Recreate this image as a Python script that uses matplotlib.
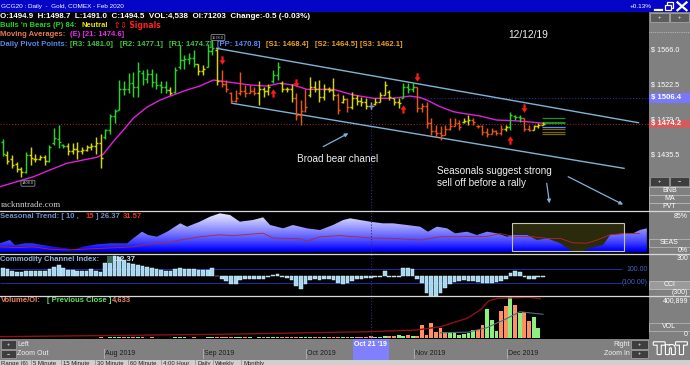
import numpy as np
import matplotlib
matplotlib.use("Agg")
import matplotlib.pyplot as plt
from matplotlib.patches import Rectangle, Polygon
from matplotlib.path import Path
from matplotlib.lines import Line2D
from matplotlib.collections import LineCollection
from matplotlib.colors import LinearSegmentedColormap
from matplotlib.transforms import Affine2D, blended_transform_factory
import matplotlib.patheffects as pe

# ---------------------------------------------------------------- data
title_text = "GCG20 : Daily  -  Gold, COMEX - Feb 2020"
quote_text = "O:1494.9  H:1498.7  L:1491.0  C:1494.5  VOL:4,538  OI:71203  Change:-0.5 (-0.03%)"
date_note = "12/12/19"
change_pct = "+0.13%"

highs = [
    1456, 1440, 1436, 1427, 1421, 1439, 1446, 1437, 1435, 1436,
    1448, 1469, 1473, 1449, 1450, 1451, 1452, 1446, 1448, 1450,
    1458, 1462, 1468, 1487, 1493, 1529, 1527, 1537, 1539, 1551,
    1541, 1543, 1543, 1537, 1527, 1527, 1520, 1545, 1572, 1560,
    1562, 1566, 1549, 1547, 1574, 1578, 1568, 1541, 1529, 1514,
    1516, 1539, 1522, 1522, 1520, 1527, 1520, 1524, 1541, 1551,
    1527, 1520, 1524, 1512, 1504, 1518, 1533, 1527, 1529, 1524,
    1520, 1531, 1512, 1510, 1506, 1514, 1510, 1508, 1506, 1502,
    1506, 1514, 1527, 1516, 1506, 1506, 1525, 1525, 1525, 1520,
    1500, 1502, 1481, 1473, 1471, 1473, 1481, 1481, 1479, 1481,
    1485, 1481, 1473, 1473, 1469, 1469, 1467, 1473, 1473, 1489,
    1485, 1485, 1481, 1473, 1473, 1475, 1477]
lows = [
    1434, 1425, 1419, 1414, 1408, 1413, 1423, 1427, 1429, 1423,
    1427, 1448, 1444, 1444, 1436, 1437, 1431, 1437, 1440, 1442,
    1437, 1419, 1456, 1462, 1475, 1491, 1510, 1512, 1508, 1508,
    1523, 1525, 1520, 1518, 1512, 1512, 1510, 1512, 1543, 1543,
    1549, 1545, 1535, 1535, 1545, 1560, 1522, 1520, 1514, 1500,
    1502, 1510, 1508, 1512, 1510, 1498, 1508, 1510, 1525, 1529,
    1514, 1514, 1502, 1479, 1473, 1489, 1508, 1514, 1502, 1504,
    1514, 1504, 1487, 1500, 1489, 1493, 1498, 1496, 1493, 1493,
    1498, 1502, 1510, 1504, 1498, 1494, 1506, 1512, 1514, 1489,
    1489, 1469, 1460, 1458, 1454, 1460, 1467, 1471, 1467, 1475,
    1473, 1473, 1469, 1460, 1458, 1462, 1460, 1460, 1465, 1467,
    1479, 1477, 1465, 1465, 1467, 1469, 1473]
opens = [
    1452, 1436, 1430, 1424, 1418, 1415, 1436, 1431, 1431, 1433,
    1428, 1450, 1456, 1448, 1447, 1440, 1443, 1440, 1442, 1445,
    1447, 1450, 1458, 1466, 1484, 1492, 1518, 1517, 1525, 1520,
    1538, 1530, 1536, 1526, 1522, 1520, 1516, 1514, 1545, 1553,
    1555, 1556, 1548, 1540, 1545, 1565, 1566, 1528, 1524, 1512,
    1503, 1512, 1515, 1512, 1515, 1513, 1518, 1515, 1528, 1535,
    1525, 1518, 1517, 1506, 1485, 1490, 1510, 1520, 1518, 1508,
    1518, 1516, 1510, 1502, 1505, 1495, 1506, 1503, 1502, 1497,
    1499, 1502, 1510, 1514, 1506, 1502, 1506, 1520, 1518, 1520,
    1494, 1496, 1475, 1465, 1463, 1460, 1468, 1472, 1475, 1476,
    1478, 1479, 1472, 1471, 1464, 1462, 1465, 1463, 1468, 1470,
    1484, 1483, 1481, 1468, 1467, 1471, 1473]
closes = [
    1437, 1428, 1423, 1418, 1414, 1435, 1432, 1431, 1433, 1428,
    1446, 1457, 1452, 1447, 1440, 1443, 1440, 1442, 1445, 1447,
    1450, 1432, 1466, 1484, 1490, 1518, 1517, 1525, 1520, 1540,
    1530, 1536, 1526, 1522, 1520, 1516, 1513, 1541, 1553, 1555,
    1556, 1549, 1540, 1542, 1565, 1568, 1528, 1524, 1517, 1503,
    1506, 1515, 1512, 1515, 1513, 1518, 1515, 1520, 1535, 1545,
    1518, 1517, 1506, 1485, 1490, 1495, 1520, 1518, 1508, 1518,
    1516, 1510, 1492, 1505, 1495, 1506, 1503, 1502, 1497, 1496,
    1502, 1510, 1522, 1508, 1502, 1500, 1520, 1518, 1520, 1494,
    1496, 1475, 1465, 1463, 1460, 1468, 1472, 1475, 1470, 1478,
    1479, 1476, 1471, 1464, 1462, 1465, 1463, 1468, 1470, 1485,
    1483, 1481, 1468, 1467, 1471, 1473, 1474.5]
# Bulls 'n Bears state per bar: G bull, Y neutral, O bear
bnb_state = ("GYYYYGYYYYGGGGYYYYYYYY" + "GGGGGGGGGGGGGG" + "Y" + "GGGGG" + "YY" + "GG" + "Y"
             + "OOOOOOOO" + "YYY" + "GG" + "YYY" + "OOO" + "YYYYYY" + "O" + "Y" + "O"
             + "YYYYYYYYYYY" + "GGG" + "OOOOOOOOOO" + "YY" + "OOOOOOO" + "Y" + "GGG" + "OO" + "YYY")

ma_idx = [-0.6, 3.0, 6.6, 10.1, 13.7, 17.3, 20.2, 21.6, 23.7, 25.9, 28.0, 30.9, 33.8, 36.6, 39.5,
          42.3, 45.2, 49.5, 53.1, 56.7, 59.5, 62.4, 65.3, 71.0, 75.3, 79.6, 83.9, 87.4, 89.6, 91.0,
          93.9, 96.7, 99.6, 102.5, 106.0, 109.6, 112.5, 116.1]
ma_val = [1396.2, 1402.4, 1408.6, 1416.9, 1425.2, 1429.4, 1432.7, 1436.8, 1452.1, 1466.6, 1481.1,
          1494.8, 1503.9, 1510.1, 1516.3, 1521.2, 1528.7, 1525.4, 1522.5, 1521.2, 1524.6, 1522.5,
          1517.1, 1517.1, 1510.1, 1506.0, 1506.0, 1508.8, 1507.0, 1503.9, 1495.6, 1489.4, 1486.5,
          1484.0, 1479.0, 1478.2, 1477.0, 1474.9]

sell_signals = [47, 63, 89, 112]
buy_signals = [58, 86, 109]
crosshair_bar = 79
last_price = 1474.2
marker_price = 1506.4

pivot_names = ["R3", "R2", "R1", "PP", "S1", "S2", "S3"]
pivot_vals = [1481.0, 1477.1, 1474.7, 1470.8, 1468.4, 1464.5, 1462.1]
ma_label_value = 1474.6

# hand drawn annotation lines (bar index, price)
chan_upper = ([45.9, 136.5], [1568.1, 1475.7])
chan_lower = ([49.2, 133.4], [1499.8, 1419.0])
arrow_bear = ((68.8, 1446.0), (74.2, 1462.5))
arrow_seas1 = ((116.8, 1400.4), (117.4, 1375.6))
arrow_seas2 = ((121.4, 1408.6), (133.2, 1374.0))

axis_prices = [1566.0, 1522.5, 1479.0, 1435.5]

seas_idx = [-0.6, 1.5, 2.6, 4.8, 6.5, 8.6, 10.8, 13.8, 14.9, 17.2, 20.2, 23.0, 26.7, 28.0, 29.9,
            31.2, 33.1, 35.3, 38.1, 39.6, 42.3, 44.5, 46.6, 48.8, 50.9, 53.7, 55.9, 57.4, 60.2,
            62.3, 65.3, 68.1, 70.9, 73.1, 74.6, 76.7, 78.9, 81.6, 83.8, 86.8, 89.6, 91.3, 93.2,
            95.4, 97.1, 99.7, 101.8, 104.0, 106.1, 108.3, 109.6, 112.6, 114.7, 116.9, 119.7,
            121.8, 124.0, 126.1, 128.9, 130.4, 133.2, 135.3, 136.8, 138.3]
seas_pct = [16.7, 25, 12.5, 16.7, 16.7, 12.5, 8.3, 4.2, 0, 8.3, 14.2, 16.7, 16.7, 29.2, 45.8,
            37.5, 33.3, 45.8, 66.7, 58.3, 70.8, 83.3, 91.7, 87.5, 70.8, 75, 81.7, 62.5, 54.2,
            62.5, 54.2, 50, 62.5, 75, 79.2, 75, 70.8, 66.7, 66.7, 62.5, 58.3, 45.8, 58.3,
            54.2, 41.7, 45.8, 37.5, 45.8, 41.7, 33.3, 37.5, 37.5, 25, 29.2, 16.7,
            0, -8.3, 4.2, 12.5, 37.5, 41.7, 41.7, 50, 54.2]
seas15_idx = [-0.6, 3.0, 6.5, 10.1, 13.8, 17.2, 20.9, 24.5, 28.0, 31.6, 35.3, 38.1, 42.3, 46.6,
              49.4, 53.7, 55.9, 58.0, 63.8, 65.3, 68.1, 72.4, 74.6, 79.5, 83.8, 89.6, 93.9,
              104.0, 106.8, 109.6, 113.9, 116.9, 119.7, 122.4, 125.4, 127.6, 130.4, 133.6, 136.8]
seas15_pct = [8, 6, 8, 2, 0, 2, 4, 6, 8, 15, 18, 25, 33, 38, 36, 40, 42, 30, 28, 22, 33, 36, 34,
              30, 29, 25, 33, 34, 41, 34, 33, 29, 29, 18, 17, 25, 38, 41, 41]
seas_box = (109.3, 133.4, -1.7, 66.7)

cci = [115, 100, 70, 60, 60, 70, 75, 75, 70, 80,
       110, 140, 165, 120, 95, 95, 75, 70, 75, 100,
       80, 60, 190, 265, 300, 290, 240, 200, 185, 160,
       145, 130, 115, 100, 90, 80, 75, 110, 115, 110,
       110, 100, 90, 85, 95, 125, 0, -40, -80, -125,
       -120, -60, -50, -40, -45, -50, -40, -20, 20, 30,
       -20, -30, -60, -150, -190, -120, -60, -50, -60, -50,
       -40, -60, -100, -120, -110, -70, -50, -40, -30, -35,
       -20, -10, 75, -20, -15, -10, 115, 115, 100, -50,
       -100, -250, -310, -300, -250, -180, -120, -90, -80, -60,
       -80, -70, -90, -100, -110, -100, -90, -80, -40, 40,
       70, 60, -20, -50, -40, -20, -10]

volume = [3000, 2500, 3500, 2000, 4000, 3000, 2500, 3000, 2000, 3500,
          4000, 5000, 3000, 2500, 3000, 2000, 2500, 3000, 2000, 3000,
          4500, 6000, 5000, 7000, 6000, 9000, 6000, 7000, 8000, 9000,
          6000, 5000, 6000, 5000, 4000, 5000, 4000, 6000, 8000, 6000,
          5000, 6000, 4000, 5000, 7000, 8000, 12000, 9000, 8000, 10000,
          7000, 8000, 6000, 6000, 5000, 7000, 6000, 6000, 8000, 9000,
          7000, 6000, 8000, 12000, 11000, 9000, 10000, 9000, 10000, 9000,
          8000, 10000, 12000, 11000, 12000, 14000, 12000, 13000, 15000, 16000,
          15000, 14000, 18000, 16000, 20000, 31000, 18000, 34000, 22000, 25000,
          137000, 30000, 155000, 67000, 102000, 67000, 50000, 50000, 33000, 45000,
          55000, 84000, 84000, 137000, 303000, 190000, 77000, 288000, 338000, 430000,
          348000, 260000, 277000, 183000, 225000, 102000, 4538]
vol_dir = ("rrrrrgrrgr" "ggrrrgrggg" "grggggrgrg" "rgrrrrrggg" "grrgggrrrr"
           "ggrgrgrggg" "rrrrgggrrg" "rrrgrgrrrr" "gggrrggrgr" "rrrrrrgggg"
           "ggrrgggrrg" "rgrrggg")
oi_idx = [-0.6, 46.6, 78.0, 88.8, 94.0, 99.7, 102.5, 104.4, 106.3, 113.0, 115.4]
oi_val = [14000, 39000, 66000, 84000, 119000, 208000, 295000, 393000, 419000, 429000, 415000]
vavg_idx = [94, 100, 104, 108, 111, 116]
vavg_val = [55000, 62000, 110000, 200000, 277000, 250000]

month_labels = ["Aug 2019", "Sep 2019", "Oct 2019", "Nov 2019", "Dec 2019"]
month_pos = [21.7, 43.0, 65.1, 88.3, 108.3]
cursor_label = "Oct 21 '19"
tabs = ["Range (6)", "5 Minute", "15 Minute", "30 Minute", "60 Minute", "4:00 Hour",
        "Daily", "Weekly", "Monthly"]
tab_x = [1, 33, 63, 97, 130, 163, 197, 215, 243]

# ---------------------------------------------------------------- figure
FONT = ["Liberation Sans", "DejaVu Sans"]
NARROW = ["Liberation Sans Narrow", "Liberation Sans", "DejaVu Sans"]
plt.rcParams["font.family"] = FONT

W, H = 690, 365
fig = plt.figure(figsize=(W / 100, H / 100), dpi=100)
fig.patch.set_facecolor("black")
PX = Affine2D().scale(1.0 / W, -1.0 / H).translate(0, 1) + fig.transFigure

def rect(x0, y0, x1, y1, fc, ec="none", lw=0.0, z=3, tr=None):
    r = Rectangle((x0, y0), x1 - x0, y1 - y0, transform=tr or PX, facecolor=fc,
                  edgecolor=ec, linewidth=lw, zorder=z)
    fig.patches.append(r)
    return r

def txt(x, y, s, color="white", size=5.5, weight="normal", ha="left", va="center",
        family=None, z=8, tr=None, **kw):
    return fig.text(x, y, s, transform=tr or PX, color=color, fontsize=size,
                    fontweight=weight, ha=ha, va=va, family=family or FONT, zorder=z, **kw)

def line(xs, ys, color, lw=0.8, ls="-", z=6):
    fig.lines.append(Line2D(xs, ys, transform=PX, color=color, lw=lw, ls=ls, zorder=z))

XLIM = (-0.60, 138.76)
CHART_R = 649

def add_ax(y0, y1, ylim):
    ax = fig.add_axes([0, 1 - y1 / H, CHART_R / W, (y1 - y0) / H])
    ax.set_xlim(*XLIM)
    ax.set_ylim(*ylim)
    ax.set_axis_off()
    return ax

n = len(closes)
idx = np.arange(n)
DOT = (0, (1, 1.6))

# ------------------------------------------------ main price panel
ax = add_ax(12, 211, (1366.0, 1613.2))
state_col = {"G": "#2ad22a", "Y": "#d6d600", "O": "#e85618"}
segs, cols = [], []
for i in range(n):
    c = state_col[bnb_state[i]]
    segs += [[(i, lows[i]), (i, highs[i])],
             [(i - 0.42, opens[i]), (i, opens[i])],
             [(i, closes[i]), (i + 0.42, closes[i])]]
    cols += [c, c, c]
ax.add_collection(LineCollection(segs, colors=cols, linewidths=1.05, zorder=5))
ax.plot(ma_idx, ma_val, color="#e01ee0", lw=1.0, zorder=4)

ax.axhline(last_price, color="#8c2a2a", lw=0.8, ls=DOT, zorder=2)
ax.hlines(marker_price, 88, XLIM[1], color="#2c2c90", lw=0.8, ls=DOT, zorder=2)
ax.plot([crosshair_bar, crosshair_bar], [1366, closes[crosshair_bar]], color="#2c2c90",
        lw=0.8, ls=DOT, zorder=2)
ax.plot([crosshair_bar], [closes[crosshair_bar]], marker="+", color="#8090ff", ms=4,
        mew=0.8, zorder=6)

ax.plot(*chan_upper, color="#7db4d6", lw=1.0, zorder=3)
ax.plot(*chan_lower, color="#7db4d6", lw=1.0, zorder=3)
for tail, tip in (arrow_bear, arrow_seas1, arrow_seas2):
    ax.annotate("", xy=tip, xytext=tail,
                arrowprops=dict(arrowstyle="-|>", color="#7db4d6", lw=0.9,
                                mutation_scale=5, shrinkA=0, shrinkB=0), zorder=3)

pcols = ["#1f8f1f"] * 3 + ["#5a8cff"] + ["#7a6410"] * 3
ax.hlines(pivot_vals, n - 1.3, n + 3.7, colors=pcols, lw=0.9, zorder=4)

verts_d = [(-0.27, 1), (0.27, 1), (0.27, 0.05), (0.72, 0.05), (0, -1), (-0.72, 0.05),
           (-0.27, 0.05), (-0.27, 1)]
codes = [Path.MOVETO] + [Path.LINETO] * 6 + [Path.CLOSEPOLY]
down_arrow = Path(verts_d, codes)
up_arrow = Path([(x, -y) for x, y in verts_d], codes)
ax.plot(sell_signals, [highs[i] + 13 for i in sell_signals], ls="none", marker=down_arrow,
        ms=6, color="#ff1a1a", mew=0, zorder=7)
ax.plot(buy_signals, [lows[i] - 13 for i in buy_signals], ls="none", marker=up_arrow,
        ms=6, color="#ff1a1a", mew=0, zorder=7)

hi_i = int(np.argmax(highs))
lo_i = int(np.argmin(lows))
box = dict(boxstyle="round,pad=0.25", fc="black", ec="#a8a8a8", lw=0.5)
ax.text(hi_i + 1.2, highs[hi_i] + 1.0, f"{highs[hi_i]:.1f}", fontsize=2.8, color="#d0d0d0",
        ha="center", va="bottom", bbox=box, zorder=8)
ax.text(lo_i + 1.4, lows[lo_i] - 5.0, f"{lows[lo_i]:.1f}", fontsize=2.8, color="#d0d0d0",
        ha="center", va="top", bbox=box, zorder=8)

# ------------------------------------------------ seasonal panel
axs = add_ax(211, 254, (-10, 97.5))
bx0, bx1, by0, by1 = seas_box
axs.add_patch(Rectangle((bx0, by0), bx1 - bx0, by1 - by0, fc="#2c2a0c", ec="none", zorder=1))
cmap = LinearSegmentedColormap.from_list(
    "seas", [(0, "#0000e0"), (0.093, "#0000ff"), (0.25, "#3a3aff"), (0.484, "#7a7aff"),
             (0.744, "#bebeff"), (1, "#f8f8ff")])
grad = np.linspace(0, 1, 256).reshape(-1, 1)
im = axs.imshow(grad, extent=[XLIM[0], XLIM[1], -10, 97.5], origin="lower", aspect="auto",
                cmap=cmap, zorder=2, interpolation="bilinear")
clip_pct = np.maximum(np.array(seas_pct, float), -4.5)
poly_v = [(seas_idx[0], -4.5)] + list(zip(seas_idx, clip_pct)) + [(seas_idx[-1], -4.5)]
clip = Polygon(poly_v, closed=True, transform=axs.transData, fc="none", ec="none")
im.set_clip_path(clip)
axs.plot(seas15_idx, seas15_pct, color="#b42828", lw=0.6, zorder=4)
axs.add_patch(Rectangle((bx0, by0), bx1 - bx0, by1 - by0, fc="none", ec="#c8c8b0",
                        lw=0.8, zorder=5))
axs.axvline(crosshair_bar, color="#2c2c90", lw=0.8, ls=DOT, zorder=6)

# ------------------------------------------------ CCI panel
axc = add_ax(254, 296, (-300, 330))
axc.hlines([100, -100], XLIM[0], 133.0, colors="#1c2c9c", lw=0.8, zorder=1)
axc.bar(idx, cci, width=0.8, color="#a4d8f2", edgecolor="#e4f6ff", linewidth=0.3, zorder=3)
axc.axvline(crosshair_bar, color="#2c2c90", lw=0.8, ls=DOT, zorder=4)

# ------------------------------------------------ Volume panel
axv = add_ax(296, 339, (-10550, 443100))
vcol = ["#8ef07c" if d == "g" else "#ff9062" for d in vol_dir]
axv.bar(idx, volume, width=0.82, color=vcol, zorder=3)
axv.plot(oi_idx, oi_val, color="#8e1212", lw=1.0, zorder=4)
axv.plot(vavg_idx, vavg_val, color="#4f6f7c", lw=0.8, zorder=4)
axv.axvline(crosshair_bar, color="#2c2c90", lw=0.8, ls=DOT, zorder=5)

# ------------------------------------------------ title bar
rect(0, 0, W, 12, "#0505c8", z=2)
txt(1, 6.2, title_text, size=4.6, family=NARROW)
txt(652, 6.2, change_pct, size=4.6, ha="right", family=NARROW)
line([655, 662], [9.6, 9.6], "white", lw=1.6)
rect(664.5, 4.8, 670.5, 10, "#0505c8", ec="white", lw=0.9, z=6)
rect(666.8, 2.4, 672.8, 7.6, "none", ec="white", lw=0.9, z=5)
line([677.5, 686.5], [2.4, 10.2], "white", lw=1.6)
line([677.5, 686.5], [10.2, 2.4], "white", lw=1.6)

# ------------------------------------------------ header text in chart
HS = 5.5
txt(0.5, 16.2, quote_text, size=5.8, weight="bold")
txt(0.5, 25.3, "Bulls 'n Bears (P) 84:", color="#22d422", size=HS, weight="bold")
txt(82, 25.3, "Neutral", color="#e6e600", size=HS, weight="bold")
txt(114, 25.3, "\u21e7\u21e9 Signals", color="#ff2020", size=HS, weight="bold",
    family=["DejaVu Sans"])
txt(0.5, 34.4, "Moving Averages:", color="#ea7a52", size=HS, weight="bold")
txt(70, 34.4, f"(E) [21: {ma_label_value:.1f}]", color="#ea28ea", size=HS, weight="bold")
txt(0.5, 44.3, "Daily Pivot Points:", color="#5a88e4", size=HS, weight="bold")
piv_x = [70, 120, 169, 217, 266, 315, 360]
piv_c = ["#3ec83e"] * 3 + ["#5a88ff"] + ["#eca21a"] * 3
for name, val, px_, pc in zip(pivot_names, pivot_vals, piv_x, piv_c):
    txt(px_, 44.3, f"[{name}: {val:.1f}]", color=pc, size=HS, weight="bold")

txt(528.5, 34.5, date_note, color="#f0f0f0", size=7.4, ha="center")
txt(297, 159, "Broad bear chanel", color="#f0f0f0", size=7.2)
txt(437, 170.5, "Seasonals suggest strong", color="#f0f0f0", size=7.2)
txt(437, 182.5, "sell off before a rally", color="#f0f0f0", size=7.2)
txt(0.3, 205, "racknntrade.com", color="#cfcfcf", size=6.4,
    family=["Liberation Serif", "DejaVu Serif"])

# panel texts
txt(0.5, 216.8, "Seasonal Trend: [ 10 ,", color="#6f90c8", size=HS, weight="bold")
txt(86, 216.8, "15", color="#e23c1c", size=HS, weight="bold")
txt(96, 216.8, "] 26.37", color="#6f90c8", size=HS, weight="bold")
txt(123, 216.8, "31.57", color="#e23c1c", size=HS, weight="bold")
txt(0.5, 259.4, "Commodity Channel Index:", color="#8cb6e2", size=HS, weight="bold")
rect(107, 256, 112.5, 262.5, "#3a6a5a", z=7)
txt(113, 259.4, "112.37", color="#cfe2f4", size=HS, weight="bold")
txt(0.5, 300.8, "Volume/OI:", color="#f08262", size=HS, weight="bold")
txt(47, 300.8, "[ Previous Close ]", color="#62e262", size=HS, weight="bold")
txt(112, 300.8, "4,633", color="#f08262", size=HS, weight="bold")

# separators
for yy in (211.2, 254.3, 296.2):
    line([0, W], [yy, yy], "#d8d8d8", lw=0.9, z=9)

# ------------------------------------------------ right gray scale panel
GRAY = "#808080"
rect(CHART_R, 12, W, 339, GRAY, z=3)
rect(650, 12.8, 668.5, 22, "#5c5c5c", ec="#b0b0b0", lw=0.5, z=4)
rect(670, 12.8, 689, 22, "#5c5c5c", ec="#b0b0b0", lw=0.5, z=4)
txt(659.2, 17.2, "+", size=4.2, ha="center")
txt(679.5, 17.2, "+", size=4.2, ha="center")
line([CHART_R, W], [31.7, 31.7], "#c4c4c4", lw=0.6, ls=(0, (1, 1.2)))

trp = blended_transform_factory(PX, ax.transData)
for p in axis_prices:
    txt(651, p, f"$ {p:.1f}", size=5.2, tr=trp, z=5)
rect(CHART_R, marker_price - 5.8, W, marker_price + 5.8, "#7878ff", tr=trp, z=6)
txt(651, marker_price, f"$ {marker_price:.1f}", size=5.6, weight="bold", tr=trp, z=7)
rect(CHART_R, last_price - 4.9, W, last_price + 5.3, "#d25c5c", tr=trp, z=6)
txt(651, last_price, f"$ {last_price:.1f}", size=5.6, weight="bold", tr=trp, z=7)

rect(650, 177, 668.5, 185.5, "#3e3e3e", ec="#9a9a9a", lw=0.5, z=4)
rect(670, 177, 689, 185.5, "#3e3e3e", ec="#9a9a9a", lw=0.5, z=4)
txt(659.2, 181.2, "+", size=4.0, ha="center")
txt(679.5, 181.2, "\u2212", size=4.0, ha="center")
for k, lab in enumerate(["BNB", "MA", "PVT"]):
    y0 = 186.8 + k * 8.0
    rect(CHART_R, y0, W, y0 + 8.0, GRAY, ec="#bdbdbd", lw=0.5, z=4)
    txt(669.5, y0 + 4.1, lab, size=5.0, ha="center", family=NARROW)

trs = blended_transform_factory(PX, axs.transData)
txt(688, 85, "85%", size=5.0, ha="right", tr=trs, family=NARROW)
txt(688, 0, "0%", size=5.0, ha="right", tr=trs, family=NARROW)
rect(CHART_R, 239.3, W, 246.7, GRAY, ec="#bdbdbd", lw=0.5, z=4)
txt(669.5, 243.0, "SEAS", size=5.0, ha="center", family=NARROW)
txt(688, 258.5, "300", size=5.0, ha="right", family=NARROW)
trc = blended_transform_factory(PX, axc.transData)
txt(647.5, 100, "100.00", color="#3f63c8", size=5.0, ha="right", tr=trc, family=NARROW)
txt(647.5, -100, "(100.00)", color="#3f63c8", size=5.0, ha="right", tr=trc, family=NARROW)
rect(CHART_R, 280.7, W, 288.7, "#9a9a9a", ec="#c4c4c4", lw=0.5, z=4)
txt(669.5, 284.8, "CCI", size=5.0, ha="center", family=NARROW)
txt(688, 292.4, "(300)", size=5.0, ha="right", family=NARROW)
txt(688, 300.4, "400,899", size=5.0, ha="right", family=NARROW)
rect(CHART_R, 323.3, W, 330.7, GRAY, ec="#bdbdbd", lw=0.5, z=4)
txt(669.5, 327.0, "VOL", size=5.0, ha="center", family=NARROW)
txt(688, 334.5, "0", size=5.0, ha="right", family=NARROW)

# ------------------------------------------------ bottom date bar
rect(0, 339, W, 359.5, GRAY, z=3)
rect(0, 359.5, W, H + 1, "#cfcfcf", z=3)
for tx, tl in zip(tab_x, tabs):
    txt(tx, 363.6, tl, color="#202020", size=4.3, family=NARROW)
    line([tx - 2.5, tx - 2.5], [359.5, 365], "#8a8a8a", lw=0.5)
rect(1, 340.2, 15.5, 348.6, "#3e3e3e", ec="#a8a8a8", lw=0.5, z=4)
rect(1, 349.8, 15.5, 358.2, "#3e3e3e", ec="#a8a8a8", lw=0.5, z=4)
txt(8.2, 344.3, "+", size=4.0, ha="center")
txt(8.2, 353.9, "\u2212", size=4.0, ha="center")
txt(17, 344.3, "Left", color="#f2f2f2", size=5.0, family=NARROW)
txt(17, 353.9, "Zoom Out", color="#f2f2f2", size=5.0, family=NARROW)
rect(631, 340.2, 647.5, 348.6, "#3e3e3e", ec="#a8a8a8", lw=0.5, z=4)
rect(631, 349.8, 647.5, 358.2, "#3e3e3e", ec="#a8a8a8", lw=0.5, z=4)
txt(639.2, 344.3, "+", size=4.0, ha="center")
txt(639.2, 353.9, "+", size=4.0, ha="center")
txt(629.5, 344.3, "Right", color="#f2f2f2", size=5.0, ha="right", family=NARROW)
txt(629.5, 353.9, "Zoom In", color="#f2f2f2", size=5.0, ha="right", family=NARROW)
txt(670.5, 349.5, "TnT", color="#7a7a7a", size=11.5, weight="bold", ha="center",
    family=["DejaVu Sans"], path_effects=[pe.withStroke(linewidth=1.6, foreground="white")])

axb = fig.add_axes([0, 1 - 359.5 / H, CHART_R / W, 20.5 / H])
axb.set_xlim(*XLIM)
axb.set_ylim(0, 1)
axb.set_axis_off()
axb.set_zorder(5)
for mp, ml in zip(month_pos, month_labels):
    axb.plot([mp, mp], [0.05, 0.5], color="#b4b4b4", lw=0.6)
    axb.text(mp + 0.25, 0.27, ml, color="#1c1c1c", fontsize=5.0, va="center",
             family=NARROW)
axb.add_patch(Rectangle((crosshair_bar - 3.9, 0.0), 7.8, 1.0, fc="#8080ff", ec="none"))
axb.text(crosshair_bar, 0.75, cursor_label, color="white", fontsize=5.0, ha="center",
         va="center", weight="bold", family=NARROW)

fig.savefig("out.png", dpi=100, facecolor="black")
